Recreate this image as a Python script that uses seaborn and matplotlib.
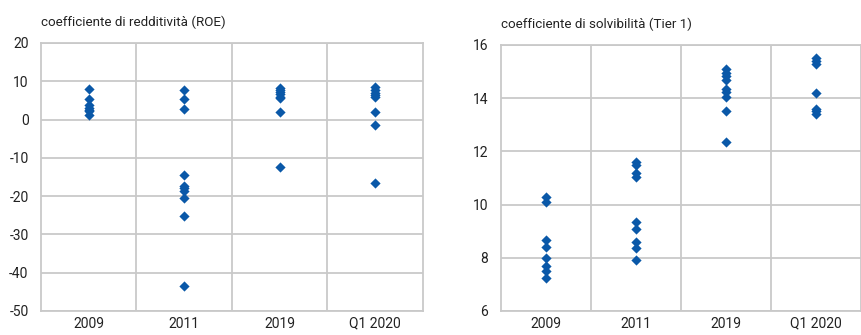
import pandas as pd
import seaborn as sns
import matplotlib.pyplot as plt
from matplotlib.ticker import FixedLocator

# categories
periods = ["2009", "2011", "2019", "Q1 2020"]

# ROE values
roe_2009 = [7.9, 5.3, 3.9, 3.0, 2.6, 2.2, 1.2]
roe_2011 = [7.6, 5.3, 2.7, -14.6, -17.4, -18.0, -18.6, -20.6, -25.1, -43.5]
roe_2019 = [8.3, 7.8, 7.2, 6.7, 6.0, 5.6, 2.1, -12.5]
roe_q1_2020 = [8.4, 7.7, 7.0, 6.5, 6.0, 2.1, -1.5, -16.5]

# Tier 1 values
t1_2009 = [10.3, 10.1, 8.65, 8.4, 8.0, 7.7, 7.5, 7.25]
t1_2011 = [11.6, 11.5, 11.2, 11.05, 9.35, 9.1, 8.6, 8.35, 7.9]
t1_2019 = [15.1, 14.95, 14.85, 14.7, 14.35, 14.25, 14.05, 13.5, 12.35]
t1_q1_2020 = [15.5, 15.4, 15.3, 14.2, 13.6, 13.5, 13.4]

titles = ["coefficiente di redditività (ROE)", "coefficiente di solvibilità (Tier 1)"]


def long_form(series):
    rows = []
    for p, vals in zip(periods, series):
        for v in vals:
            rows.append({"period": p, "value": v})
    return pd.DataFrame(rows)


roe = long_form([roe_2009, roe_2011, roe_2019, roe_q1_2020])
tier1 = long_form([t1_2009, t1_2011, t1_2019, t1_q1_2020])

sns.set_style("white")
plt.rcParams["font.family"] = ["Roboto", "DejaVu Sans"]
plt.rcParams["axes.unicode_minus"] = False

blue = "#0a58a8"
grid = "#c9c9c9"

fig = plt.figure(figsize=(8.62, 3.35), dpi=100)
ax1 = fig.add_axes([0.0476, 0.0717, 0.443, 0.800])
ax2 = fig.add_axes([0.581, 0.0717, 0.418, 0.794])

for ax, data, title, ylim, step in [
    (ax1, roe, titles[0], (-50, 20), 10),
    (ax2, tier1, titles[1], (6, 16), 2),
]:
    sns.stripplot(data=data, x="period", y="value", order=periods, jitter=False,
                  marker="D", size=5.2, color=blue, linewidth=0, ax=ax, zorder=3)
    ax.set_xlim(-0.5, 3.5)
    ax.set_ylim(*ylim)
    ax.set_yticks(range(ylim[0], ylim[1] + 1, step))
    ax.xaxis.set_minor_locator(FixedLocator([0.5, 1.5, 2.5]))
    ax.grid(True, axis="y", which="major", color=grid, linewidth=1.3)
    ax.grid(True, axis="x", which="minor", color=grid, linewidth=1.3)
    ax.grid(False, axis="x", which="major")
    ax.set_axisbelow(True)
    ax.set_xlabel("")
    ax.set_ylabel("")
    ax.tick_params(axis="both", which="both", length=0, labelsize=10, colors="#222222")
    ax.tick_params(axis="x", pad=4)
    ax.tick_params(axis="y", pad=9)
    for s in ax.spines.values():
        s.set_color(grid)
        s.set_linewidth(1.3)
    ax.set_title(title, loc="left", fontsize=9.6, color="#222222", pad=12, x=0.0)

fig.savefig("out.png", dpi=100)
